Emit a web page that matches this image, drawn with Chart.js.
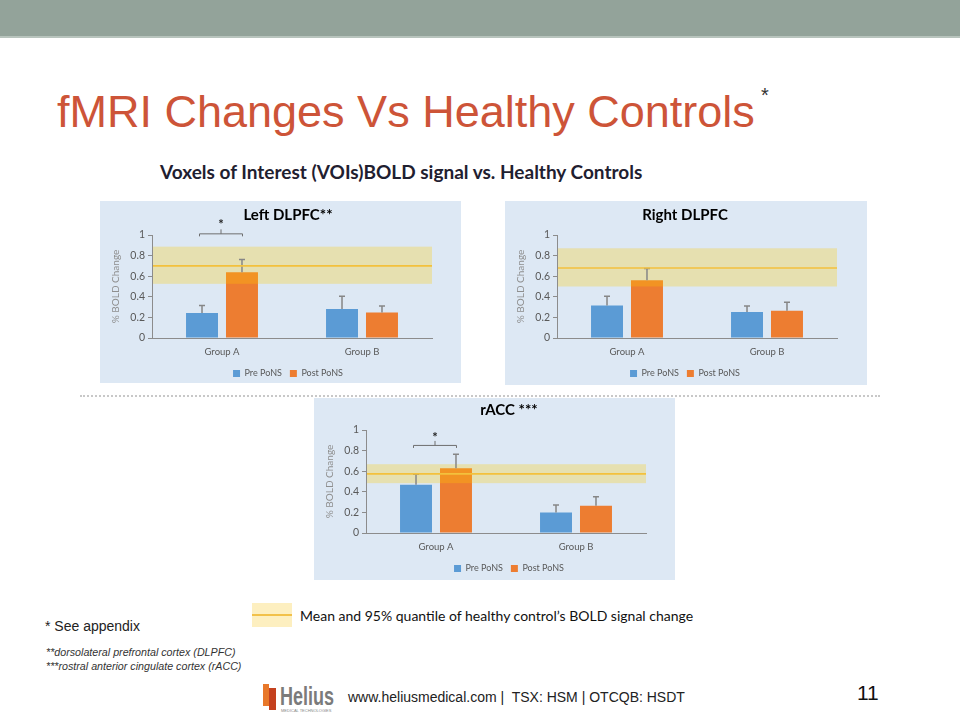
<!DOCTYPE html>
<html><head><meta charset="utf-8">
<script src="https://cdn.jsdelivr.net/npm/chart.js@4.4.0/dist/chart.umd.min.js"></script>
<style>
html,body{margin:0;padding:0;background:#fff;}
#slide{position:relative;width:960px;height:720px;overflow:hidden;font-family:'Liberation Sans',Arial,sans-serif;}
.abs{position:absolute;white-space:nowrap;}
.panel{position:absolute;background:#dde8f4;}
canvas{position:absolute;}
</style></head><body>
<div id="slide">
  <div class="abs" style="left:0;top:0;width:960px;height:36px;background:#93a39a;"></div>
  <div class="abs" style="left:0;top:36px;width:960px;height:2px;background:#b8c4bd;"></div>
  <div class="abs" style="left:57px;top:89px;font-size:45px;line-height:45px;color:#cd5438;">fMRI Changes Vs Healthy Controls</div>
  <div class="abs" style="left:761px;top:85px;font-size:20px;line-height:20px;color:#333;">*</div>
  <div class="abs" style="left:160px;top:159px;font-family:Lato,sans-serif;font-weight:bold;font-size:19px;line-height:26px;color:#1f2030;">Voxels of Interest (VOIs)BOLD signal vs. Healthy Controls</div>

  <div class="panel" style="left:100px;top:201px;width:361px;height:182px;"></div>
  <div class="panel" style="left:505px;top:201px;width:362px;height:184px;"></div>
  <div class="panel" style="left:314px;top:398px;width:361px;height:182px;"></div>
  <div class="abs" style="left:80px;top:395px;width:800px;height:0;border-top:2px dotted #c8c8c8;"></div>

  <canvas id="cLeft" width="376" height="187" style="left:100px;top:201px;"></canvas>
  <canvas id="cRight" width="360" height="187" style="left:505px;top:201px;"></canvas>
  <canvas id="cAcc" width="390" height="185" style="left:314px;top:398px;"></canvas>

  <div class="abs" style="left:252px;top:603px;width:40px;height:24px;background:#fdefc0;"></div>
  <div class="abs" style="left:252px;top:614px;width:40px;height:2px;background:#f2c14a;"></div>
  <div class="abs" style="left:300px;top:606px;font-family:Lato,sans-serif;font-size:14px;line-height:20px;color:#111;">Mean and 95% quantile of healthy control’s BOLD signal change</div>

  <div class="abs" style="left:45px;top:617px;font-size:14px;line-height:18px;color:#222;">* See appendix</div>
  <div class="abs" style="left:46px;top:645px;font-size:10.7px;line-height:14px;font-style:italic;color:#333;">**dorsolateral prefrontal cortex (DLPFC)<br>***rostral anterior cingulate cortex (rACC)</div>

  <div class="abs" style="left:263px;top:684px;width:6px;height:22px;background:#e8782a;"></div>
  <div class="abs" style="left:269px;top:688px;width:7px;height:22px;background:#c4411f;"></div>
  <div class="abs" style="left:280px;top:684px;font-size:25px;line-height:25px;font-weight:bold;color:#7b7b7b;transform:scaleX(0.72);transform-origin:left top;">Helius</div>
  <div class="abs" style="left:281px;top:709px;font-size:4px;line-height:4px;color:#888;">MEDICAL TECHNOLOGIES</div>
  <div class="abs" style="left:348px;top:688px;font-size:14px;line-height:18px;color:#222;">www.heliusmedical.com |&nbsp; TSX: HSM | OTCQB: HSDT</div>
  <div class="abs" style="left:857px;top:682px;font-size:21px;line-height:22px;color:#111;">11</div>
</div>
<script>
const categories = ['Group A', 'Group B'];
const seriesNames = ['Pre PoNS', 'Post PoNS'];
const yTicks = [0, 0.2, 0.4, 0.6, 0.8, 1];

// Left DLPFC
const leftPre = [0.242, 0.281];
const leftPreErr = [0.074, 0.125];
const leftPost = [0.639, 0.248];
const leftPostErr = [0.122, 0.062];
const leftBand = [0.526, 0.887];
const leftMean = [0.70];
const leftSig = [1.016, 1.13];

// Right DLPFC
const rightPre = [0.316, 0.252];
const rightPreErr = [0.09, 0.058];
const rightPost = [0.561, 0.265];
const rightPostErr = [0.113, 0.083];
const rightBand = [0.50, 0.871];
const rightMean = [0.68];
const rightSig = [];

// rACC
const accPre = [0.468, 0.20];
const accPreErr = [0.103, 0.071];
const accPost = [0.629, 0.265];
const accPostErr = [0.136, 0.087];
const accBand = [0.484, 0.668];
const accMean = [0.574];
const accSig = [0.855, 0.958];

const FONT = 'Lato';

const refPlugin = {
  id: 'refBand',
  afterDatasetsDraw(chart, args, opts) {
    const {ctx, chartArea: a, scales: {y}} = chart;
    const yHi = y.getPixelForValue(opts.band[1]);
    const yLo = y.getPixelForValue(opts.band[0]);
    ctx.save();
    ctx.fillStyle = 'rgba(255,204,0,0.28)';
    ctx.fillRect(a.left + 1, yHi, a.right - a.left - 1, yLo - yHi);
    ctx.strokeStyle = '#868686';
    ctx.lineWidth = 1.5;
    chart.data.datasets.forEach((ds, di) => {
      chart.getDatasetMeta(di).data.forEach((bar, i) => {
        const top = y.getPixelForValue(ds.data[i] + ds.errors[i]);
        ctx.beginPath();
        ctx.moveTo(bar.x, bar.y);
        ctx.lineTo(bar.x, top);
        ctx.moveTo(bar.x - 3, top);
        ctx.lineTo(bar.x + 3, top);
        ctx.stroke();
      });
    });
    const ym = y.getPixelForValue(opts.mean[0]);
    ctx.strokeStyle = '#f3c13c';
    ctx.lineWidth = 1.6;
    ctx.beginPath();
    ctx.moveTo(a.left + 1, ym);
    ctx.lineTo(a.right, ym);
    ctx.stroke();
    ctx.restore();
  }
};

const sigPlugin = {
  id: 'sigMark',
  afterDraw(chart, args, opts) {
    if (!opts.sig || opts.sig.length < 2) return;
    const {ctx, scales: {y}} = chart;
    const b0 = chart.getDatasetMeta(0).data[0];
    const b1 = chart.getDatasetMeta(1).data[0];
    const x0 = b0.x - 3, x1 = b1.x;
    const yb = y.getPixelForValue(opts.sig[0]);
    const ys = y.getPixelForValue(opts.sig[1]);
    const xm = (x0 + x1) / 2;
    ctx.save();
    ctx.strokeStyle = '#6e6e6e';
    ctx.lineWidth = 1;
    ctx.beginPath();
    ctx.moveTo(x0 + 0.5, yb + 3);
    ctx.lineTo(x0 + 0.5, yb + 0.5);
    ctx.lineTo(x1 + 0.5, yb + 0.5);
    ctx.lineTo(x1 + 0.5, yb + 3);
    ctx.moveTo(xm + 0.5, yb + 0.5);
    ctx.lineTo(xm + 0.5, yb - 4);
    ctx.stroke();
    ctx.fillStyle = '#222';
    ctx.font = 'bold 13px ' + FONT;
    ctx.textAlign = 'center';
    ctx.textBaseline = 'middle';
    ctx.fillText('*', xm + 0.5, ys + 3);
    ctx.restore();
  }
};

function makeChart(id, titleText, pre, preErr, post, postErr, band, mean, sig, titleCenterY, chartTop, rightGap, xHeight) {
  const titleH = 18;
  const padTop = titleCenterY - titleH / 2;
  return new Chart(document.getElementById(id), {
    type: 'bar',
    data: {
      labels: categories,
      datasets: [
        {label: seriesNames[0], data: pre, errors: preErr, backgroundColor: '#5b9bd5', borderWidth: 0},
        {label: seriesNames[1], data: post, errors: postErr, backgroundColor: '#ed7d31', borderWidth: 0}
      ]
    },
    options: {
      responsive: false,
      animation: false,
      events: [],
      layout: {padding: {left: 0, right: 0, top: 0, bottom: 0}},
      categoryPercentage: 0.571,
      barPercentage: 0.8,
      plugins: {
        title: {display: true, text: titleText, color: '#000', font: {family: FONT, size: 15, weight: 'bold', lineHeight: 1.2},
                padding: {top: padTop, bottom: chartTop - padTop - titleH}},
        legend: {position: 'bottom', labels: {boxWidth: 7, boxHeight: 7, padding: 8, color: '#595959', font: {family: FONT, size: 9}}},
        tooltip: {enabled: false},
        refBand: {band: band, mean: mean},
        sigMark: {sig: sig}
      },
      scales: {
        x: {
          ticks: {color: '#595959', font: {family: FONT, size: 9.5}, padding: 8},
          grid: {display: false, drawTicks: false},
          border: {display: true, color: '#8c8c8c', width: 1},
          afterFit: s => { s.height = xHeight; }
        },
        y: {
          position: 'left',
          min: 0, max: 1,
          afterBuildTicks: s => { s.ticks = yTicks.map(v => ({value: v})); },
          ticks: {color: '#595959', font: {family: FONT, size: 10.5}, padding: 3, callback: v => String(v)},
          grid: {display: true, drawOnChartArea: false, drawTicks: true, tickLength: 4, color: '#8c8c8c'},
          border: {display: true, color: '#8c8c8c', width: 1},
          title: {display: true, text: '% BOLD Change', color: '#8f8f8f', font: {family: FONT, size: 10}, padding: {top: 10, bottom: 0}},
          afterFit: s => { s.width = 52; }
        },
        yr: {
          type: 'linear', position: 'right', display: true,
          ticks: {display: false}, grid: {display: false, drawTicks: false}, border: {display: false},
          afterFit: s => { s.width = rightGap; }
        }
      }
    },
    plugins: [refPlugin, sigPlugin]
  });
}

makeChart('cLeft', 'Left DLPFC**', leftPre, leftPreErr, leftPost, leftPostErr, leftBand, leftMean, leftSig, 14, 34, 44, 23);
makeChart('cRight', 'Right DLPFC', rightPre, rightPreErr, rightPost, rightPostErr, rightBand, rightMean, rightSig, 14, 34, 28, 23);
makeChart('cAcc', 'rACC ***', accPre, accPreErr, accPost, accPostErr, accBand, accMean, accSig, 12, 32, 58, 23);
</script>
</body></html>
